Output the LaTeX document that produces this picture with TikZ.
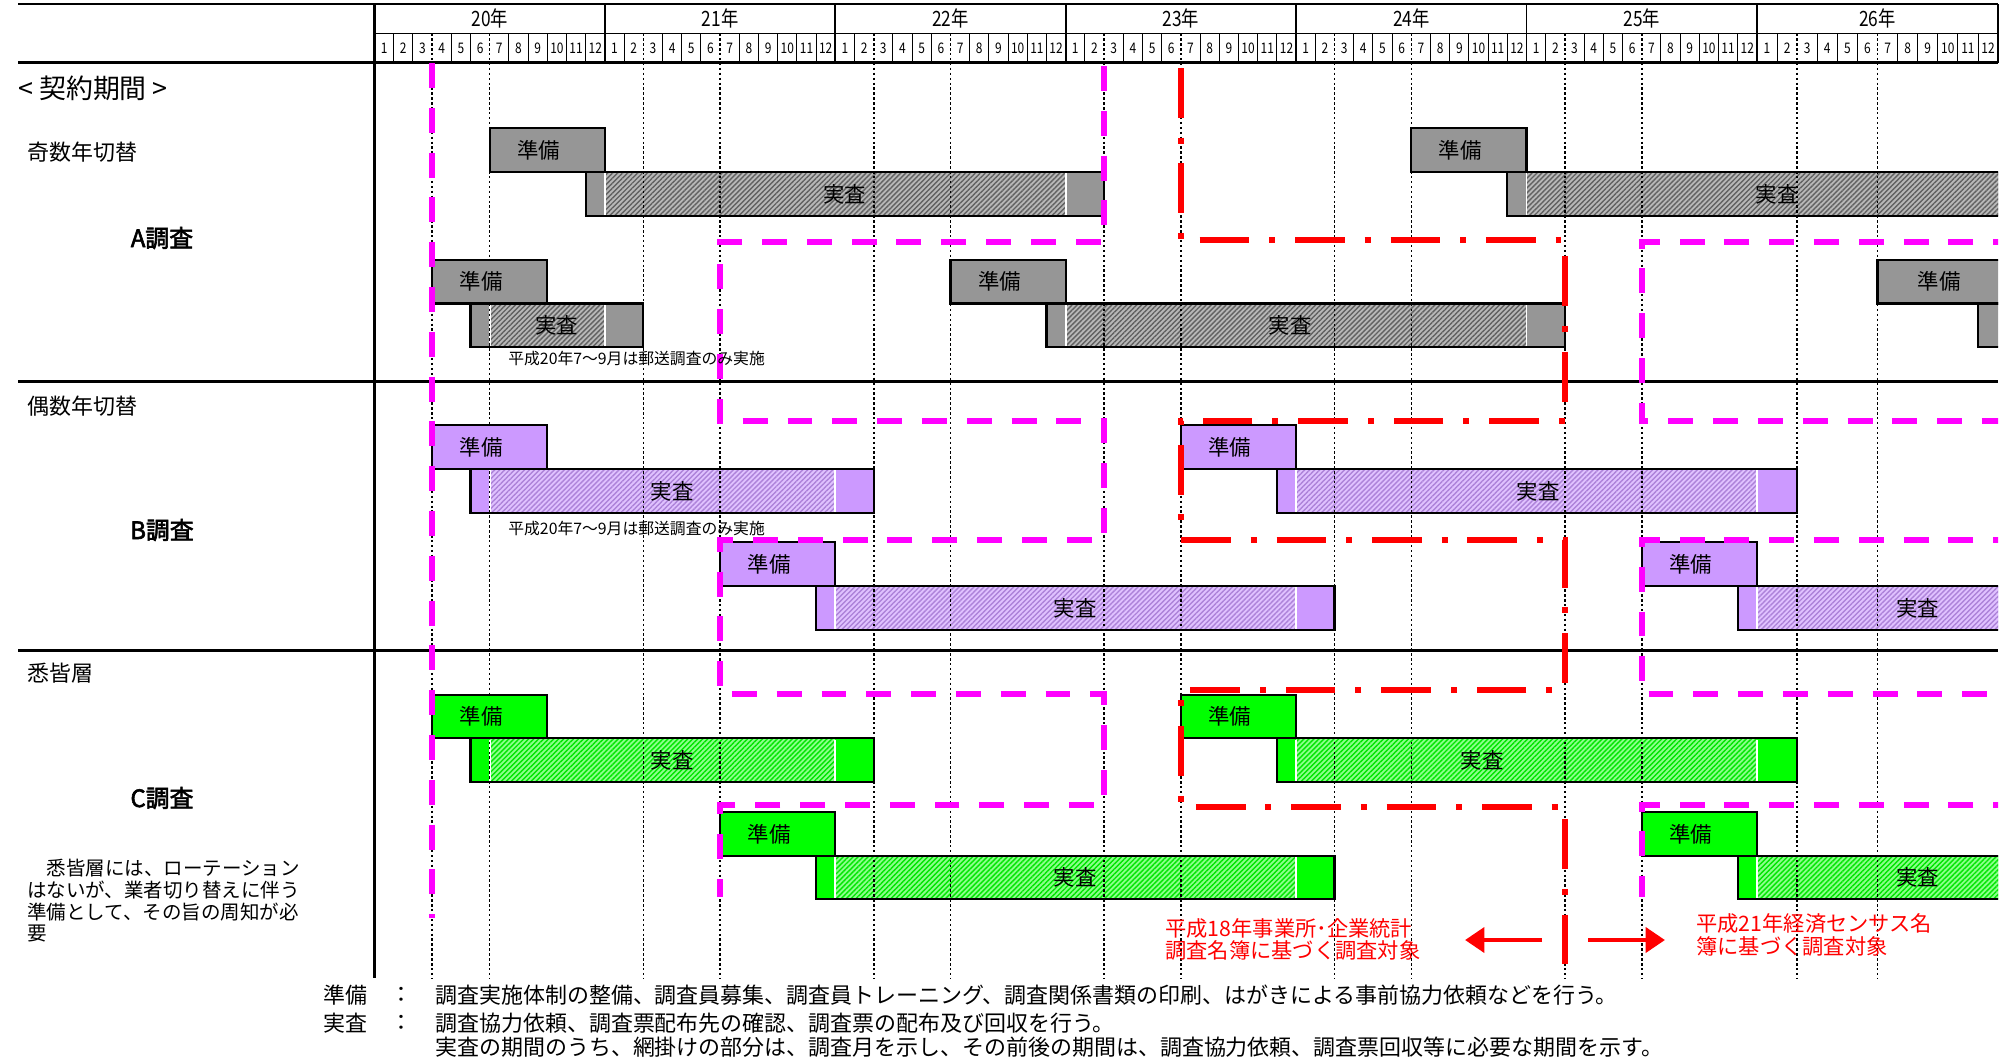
\documentclass[tikz,border=0pt]{standalone}
\usepackage{fontspec}
\setmainfont{Noto Sans CJK JP}
\newfontfamily\narrowjp[FakeStretch=0.82]{Noto Sans CJK JP}
\newfontfamily\boldjp[FakeBold=2.5]{Noto Sans CJK JP}
\usetikzlibrary{arrows.meta,patterns.meta}

\definecolor{bargray}{HTML}{969696}
\definecolor{barpurple}{HTML}{CC99FF}
\definecolor{bargreen}{HTML}{00FF00}
\definecolor{dashmag}{HTML}{FF00FF}
\definecolor{dashred}{HTML}{FF0000}

\tikzset{
	rulebold/.style={draw=black, line width=1.4pt},
	rulethin/.style={draw=black, line width=0.8pt},
	yearline/.style={draw=black, line width=1.1pt},
	monthline/.style={draw=black, line width=0.5pt},
	gridline/.style={draw=black, line width=0.9pt, dash pattern=on 1.4pt off 1.4pt},
	barline/.style={draw=black, line width=1.2pt},
	sepline/.style={draw=white, line width=1.1pt},
	graysolid/.style={fill=bargray},
	purplesolid/.style={fill=barpurple},
	greensolid/.style={fill=bargreen},
	grayhatch/.style={preaction={fill=black!28}, pattern={Lines[angle=45,distance=2pt,line width=0.8pt]}, pattern color=black!62},
	purplehatch/.style={preaction={fill=barpurple!60}, pattern={Lines[angle=45,distance=2pt,line width=0.8pt]}, pattern color=barpurple!85!black},
	greenhatch/.style={preaction={fill=bargreen!45}, pattern={Lines[angle=45,distance=2pt,line width=0.8pt]}, pattern color=bargreen!90!black},
	magline/.style={draw=dashmag, line width=3.4pt, dash pattern=on 14.2pt off 11.3pt},
	redline/.style={draw=dashred, line width=3.4pt, dash pattern=on 28.3pt off 11.3pt on 3.4pt off 11.3pt},
	redarrow/.style={draw=dashred, line width=2.8pt, -{Triangle[length=11pt,width=14pt]}},
	barlabel/.style={inner sep=0pt, font=\fontsize{12.2}{12}\selectfont},
	yearlabel/.style={inner sep=0pt, font=\narrowjp\fontsize{12}{12}\selectfont},
	monthlabel/.style={inner sep=0pt, font=\narrowjp\fontsize{8.3}{8}\selectfont},
	rowlabel/.style={inner sep=0pt, anchor=west, font=\fontsize{12.5}{13}\selectfont},
	surveylabel/.style={inner sep=0pt, font=\boldjp\fontsize{13.6}{14}\selectfont},
	notelabel/.style={inner sep=0pt, anchor=west, font=\fontsize{9}{9}\selectfont},
	legendtext/.style={inner sep=0pt, font=\fontsize{12.5}{13}\selectfont},
	redtext/.style={inner sep=0pt, anchor=west, align=left, text=dashred}
}

\newcommand{\junbi}[5]{%
	\draw[#1solid, barline] ({mx(#3)},#2) rectangle ({mx(#4)},#2+43.7);
	\node[barlabel] at ({(mx(#3)+mx(#4))/2-8.6},#2+21.85) (#5) {準備};
}
\newcommand{\jissa}[8]{%
	\fill[#1solid] ({mx(#3)},#2+43.7) rectangle ({mx(#6)},#2+87.4);
	\fill[#1hatch] ({mx(#4)},#2+43.7) rectangle ({mx(#5)},#2+87.4);
	\draw[sepline] ({mx(#4)},#2+45) -- ({mx(#4)},#2+86.1);
	\draw[sepline] ({mx(#5)},#2+45) -- ({mx(#5)},#2+86.1);
	\draw[barline] ({mx(#3)},#2+43.7) rectangle ({mx(#6)},#2+87.4);
	\node[barlabel] at ({mx(#7)},#2+65.55) (#8) {実査};
}

\begin{document}
\begin{tikzpicture}[x=0.02cm, y=-0.02cm,
	declare function={mx(\m)=(\m>72) ? (1756.9+20.1*(\m-72)) : (374.5+19.2*\m);}]
	\useasboundingbox (0,0) rectangle (2011,1059);

	\draw[rulebold] (18,4) -- ({mx(84)},4);
	\draw[rulethin] (374.5,33.3) -- ({mx(84)},33.3);
	\draw[rulebold] (18,62.5) -- ({mx(84)},62.5);
	\draw[rulebold] (18,381.7) -- ({mx(84)},381.7);
	\draw[rulebold] (18,650.7) -- ({mx(84)},650.7);
	\draw[rulebold] (374.5,4) -- (374.5,978);
	\foreach \k in {1,...,7}
		\draw[yearline] ({mx(12*\k)},4) -- ({mx(12*\k)},62.5);
	\foreach \k in {0,...,6}{
		\pgfmathtruncatemacro{\yr}{20+\k}
		\node[yearlabel] at ({(mx(12*\k)+mx(12*\k+12))/2},18.6) (year\yr) {\yr{}年};
		\foreach \j in {1,...,12}
			\node[monthlabel] at ({(mx(12*\k+\j-1)+mx(12*\k+\j))/2},48) (month\k-\j) {\j};
		\foreach \j in {1,...,11}{
			\pgfmathtruncatemacro{\isdot}{(\k==0 && (\j==3 || \j==6)) || (\k>0 && (\j==2 || \j==6))}
			\ifnum\isdot=0 \draw[monthline] ({mx(12*\k+\j)},33.3) -- ({mx(12*\k+\j)},62.5); \fi
		}
	}

	\begin{scope}
		\clip (0,0) rectangle ({mx(84)},1059);
		\jissa{gray}{128.4}{11}{12}{36}{38}{24.5}{jissaA1}
		\jissa{gray}{128.4}{59}{60}{85}{85}{73}{jissaA3}
		\jissa{gray}{259.8}{5}{6}{12}{14}{9.5}{jissaA2}
		\jissa{gray}{259.8}{35}{36}{60}{62}{47.7}{jissaA4}
		\fill[graysolid] ({mx(83)},303.5) rectangle ({mx(85)},347.2);
		\draw[barline] ({mx(83)},303.5) rectangle ({mx(85)},347.2);
		\jissa{purple}{425.4}{5}{6}{24}{26}{15.5}{jissaB1}
		\jissa{purple}{425.4}{47}{48}{72}{74}{60.6}{jissaB3}
		\jissa{purple}{542.4}{23}{24}{48}{50}{36.5}{jissaB2}
		\jissa{purple}{542.4}{71}{72}{85}{85}{80}{jissaB4}
		\jissa{green}{694.6}{5}{6}{24}{26}{15.5}{jissaC1}
		\jissa{green}{694.6}{47}{48}{72}{74}{57.7}{jissaC3}
		\jissa{green}{812}{23}{24}{48}{50}{36.5}{jissaC2}
		\jissa{green}{812}{71}{72}{85}{85}{80}{jissaC4}

		\foreach \m in {3,6,14,18,26,30,38,42,50,54,62,66,74,78}
			\draw[gridline] ({mx(\m)},33.3) -- ({mx(\m)},978);

		\junbi{gray}{128.4}{6}{12}{junbiA1}
		\junbi{gray}{128.4}{54}{60}{junbiA3}
		\junbi{gray}{259.8}{3}{9}{junbiA2}
		\junbi{gray}{259.8}{30}{36}{junbiA4}
		\junbi{gray}{259.8}{78}{85}{junbiA6}
		\junbi{purple}{425.4}{3}{9}{junbiB1}
		\junbi{purple}{425.4}{42}{48}{junbiB3}
		\junbi{purple}{542.4}{18}{24}{junbiB2}
		\junbi{purple}{542.4}{66}{72}{junbiB4}
		\junbi{green}{694.6}{3}{9}{junbiC1}
		\junbi{green}{694.6}{42}{48}{junbiC3}
		\junbi{green}{812}{18}{24}{junbiC2}
		\junbi{green}{812}{66}{72}{junbiC4}

		\draw[magline] ({mx(3)},63) -- ({mx(3)},918);
		\draw[magline] ({mx(38)},66) -- ({mx(38)},241.7) -- ({mx(18)},241.7) -- ({mx(18)},421) -- ({mx(38)},421) -- ({mx(38)},540)
			-- ({mx(18)},540) -- ({mx(18)},694.3) -- ({mx(38)},694.3) -- ({mx(38)},804.7) -- ({mx(18)},804.7) -- ({mx(18)},897);
		\draw[magline] ({mx(85)},241.7) -- ({mx(66)},241.7) -- ({mx(66)},421) -- ({mx(85)},421);
		\draw[magline] ({mx(85)},540) -- ({mx(66)},540) -- ({mx(66)},694.3) -- ({mx(85)},694.3);
		\draw[magline] ({mx(85)},804.7) -- ({mx(66)},804.7) -- ({mx(66)},897);
		\draw[redline] ({mx(42)},68) -- ({mx(42)},240) -- ({mx(62)},240) -- ({mx(62)},421) -- ({mx(42)},421) -- ({mx(42)},540)
			-- ({mx(62)},540) -- ({mx(62)},690) -- ({mx(42)},690) -- ({mx(42)},806.7) -- ({mx(62)},806.7) -- ({mx(62)},970);
	\end{scope}

	\node[rowlabel, font=\fontsize{15.3}{16}\selectfont] at (18,88) (period) {< 契約期間 >};
	\node[rowlabel] at (27,151.7) (odd) {奇数年切替};
	\node[surveylabel] at (162,238) (surveyA) {A調査};
	\node[rowlabel] at (27,406) (even) {偶数年切替};
	\node[surveylabel] at (162,530) (surveyB) {B調査};
	\node[rowlabel] at (27,673) (whole) {悉皆層};
	\node[surveylabel] at (162,798) (surveyC) {C調査};
	\node[inner sep=0pt, anchor=west, align=left, font=\fontsize{11.1}{12.3}\selectfont] at (27,900.8) (wholenote)
		{　悉皆層には、ローテーション\\はないが、業者切り替えに伴う\\準備として、その旨の周知が必\\要};
	\node[notelabel] at (508,358.3) (mailA) {平成20年7～9月は郵送調査のみ実施};
	\node[notelabel] at (508,528.3) (mailB) {平成20年7～9月は郵送調査のみ実施};

	\node[redtext, font=\fontsize{12.1}{12.3}\selectfont] at (1165,939.2) (oldlist) {平成18年事業所･企業統計\\調査名簿に基づく調査対象};
	\node[redtext, font=\fontsize{12.1}{13.3}\selectfont] at (1696,935) (newlist) {平成21年経済センサス名\\簿に基づく調査対象};
	\coordinate (leftfrom) at (1542,940);
	\coordinate (lefttip) at (1465,940);
	\coordinate (rightfrom) at (1588,940);
	\coordinate (righttip) at (1665,940);
	\draw[redarrow] (leftfrom) -- (lefttip);
	\draw[redarrow] (rightfrom) -- (righttip);

	\node[legendtext] at (345,995) (keyJ) {準備};
	\node[legendtext] at (401.8,995) (keyJc) {：};
	\node[legendtext, anchor=west] at (435,995) (keyJt) {調査実施体制の整備、調査員募集、調査員トレーニング、調査関係書類の印刷、はがきによる事前協力依頼などを行う。};
	\node[legendtext] at (345,1023) (keyS) {実査};
	\node[legendtext] at (401.8,1023) (keySc) {：};
	\node[legendtext, anchor=west] at (435,1023) (keySt) {調査協力依頼、調査票配布先の確認、調査票の配布及び回収を行う。};
	\node[legendtext, anchor=west] at (435,1047) (keySt2) {実査の期間のうち、網掛けの部分は、調査月を示し、その前後の期間は、調査協力依頼、調査票回収等に必要な期間を示す。};
\end{tikzpicture}
\end{document}
